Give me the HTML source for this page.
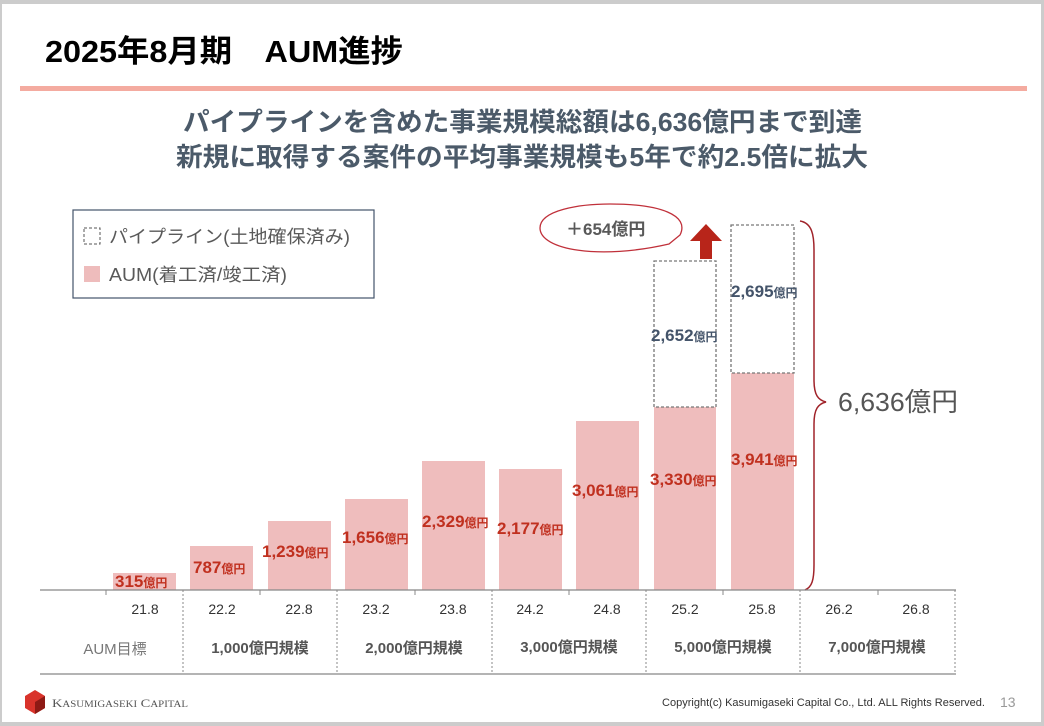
<!DOCTYPE html>
<html><head><meta charset="utf-8"><style>
body{margin:0;width:1044px;height:726px;overflow:hidden;background:#fff}
svg{display:block;font-family:"Liberation Sans","Noto Sans CJK JP",sans-serif}
</style></head><body>
<svg width="1044" height="726" viewBox="0 0 1044 726">
<rect x="0" y="0" width="1044" height="726" fill="#cccccc"/>
<rect x="2" y="4" width="1039" height="718" fill="#fff"/>
<text x="45" y="62" font-size="31" font-weight="bold" fill="#000" textLength="358" lengthAdjust="spacingAndGlyphs">2025年8月期　AUM進捗</text>
<rect x="20" y="86" width="1007" height="5" fill="#f4aba0"/>
<g font-size="26" font-weight="bold" fill="#4b5a69">
<text x="183" y="131" textLength="679" lengthAdjust="spacingAndGlyphs">パイプラインを含めた事業規模総額は6,636億円まで到達</text>
<text x="176" y="166" textLength="692" lengthAdjust="spacingAndGlyphs">新規に取得する案件の平均事業規模も5年で約2.5倍に拡大</text>
</g>
<rect x="73" y="210" width="301" height="88" fill="#fff" stroke="#44546a" stroke-width="1.2"/>
<rect x="84" y="228" width="16" height="16" fill="none" stroke="#555" stroke-dasharray="3,2"/>
<text x="109" y="243" font-size="18" fill="#595959" textLength="241" lengthAdjust="spacingAndGlyphs">パイプライン(土地確保済み)</text>
<rect x="84" y="266" width="16" height="16" fill="#eebcbc"/>
<text x="109" y="281" font-size="18" fill="#595959" textLength="178" lengthAdjust="spacingAndGlyphs">AUM(着工済/竣工済)</text>
<g fill="#efbdbd">
<rect x="113" y="573" width="63" height="17"/>
<rect x="190" y="546" width="63" height="44"/>
<rect x="268" y="521" width="63" height="69"/>
<rect x="345" y="499" width="63" height="91"/>
<rect x="422" y="461" width="63" height="129"/>
<rect x="499" y="469" width="63" height="121"/>
<rect x="576" y="421" width="63" height="169"/>
<rect x="654" y="407" width="62" height="183"/>
<rect x="731" y="373" width="63" height="217"/>
</g>
<g fill="none" stroke="#777" stroke-width="1.3" stroke-dasharray="3,2">
<rect x="654" y="261" width="62" height="146"/>
<rect x="731" y="225" width="63" height="148"/>
</g>
<g font-weight="bold" fill="#c0301f">
<text x="115" y="587" font-size="17">315<tspan font-size="12">億円</tspan></text>
<text x="193" y="573" font-size="17">787<tspan font-size="12">億円</tspan></text>
<text x="262" y="557" font-size="17">1,239<tspan font-size="12">億円</tspan></text>
<text x="342" y="543" font-size="17">1,656<tspan font-size="12">億円</tspan></text>
<text x="422" y="527" font-size="17">2,329<tspan font-size="12">億円</tspan></text>
<text x="497" y="534" font-size="17">2,177<tspan font-size="12">億円</tspan></text>
<text x="572" y="496" font-size="17">3,061<tspan font-size="12">億円</tspan></text>
<text x="650" y="485" font-size="17">3,330<tspan font-size="12">億円</tspan></text>
<text x="731" y="465" font-size="17">3,941<tspan font-size="12">億円</tspan></text>
</g>
<g font-weight="bold" fill="#44546a">
<text x="651" y="341" font-size="17">2,652<tspan font-size="12">億円</tspan></text>
<text x="731" y="297" font-size="17">2,695<tspan font-size="12">億円</tspan></text>
</g>
<path d="M669 244 C 600 260,540 250,540 228 C 540 210,580 204,610 204 C 660 204,690 215,680 235 Z" fill="#fff" stroke="#c0303a" stroke-width="1.3"/>
<text x="566" y="235" font-size="17" font-weight="bold" fill="#595959">＋654億円</text>
<path d="M700 259 V241 H690 L706 224 L722 241 H712 V259 Z" fill="#b8251a"/>
<path d="M800 221 C 812 223,814 235,814 250 V380 C 814 395,818 400,826 402 C 818 404,814 409,814 424 V565 C 814 580,812 587,805 590" fill="none" stroke="#a0232a" stroke-width="1.5"/>
<text x="838" y="411" font-size="26" fill="#555" textLength="120" lengthAdjust="spacingAndGlyphs">6,636億円</text>
<line x1="40" y1="590" x2="956" y2="590" stroke="#888" stroke-width="1.3"/>
<line x1="40" y1="674" x2="956" y2="674" stroke="#888" stroke-width="1.3"/>
<g stroke="#888" stroke-width="1"><line x1="106" y1="590" x2="106" y2="595"/><line x1="260" y1="590" x2="260" y2="595"/><line x1="415" y1="590" x2="415" y2="595"/><line x1="569" y1="590" x2="569" y2="595"/><line x1="723" y1="590" x2="723" y2="595"/><line x1="878" y1="590" x2="878" y2="595"/></g>
<g stroke="#888" stroke-width="1" stroke-dasharray="2,2"><line x1="183" y1="590" x2="183" y2="674"/><line x1="337" y1="590" x2="337" y2="674"/><line x1="492" y1="590" x2="492" y2="674"/><line x1="646" y1="590" x2="646" y2="674"/><line x1="800" y1="590" x2="800" y2="674"/><line x1="955" y1="590" x2="955" y2="674"/></g>
<g font-size="14" fill="#333" text-anchor="middle">
<text x="145" y="614">21.8</text><text x="222" y="614">22.2</text><text x="299" y="614">22.8</text><text x="376" y="614">23.2</text><text x="453" y="614">23.8</text><text x="530" y="614">24.2</text><text x="607" y="614">24.8</text><text x="685" y="614">25.2</text><text x="762" y="614">25.8</text><text x="839" y="614">26.2</text><text x="916" y="614">26.8</text>
</g>
<text x="115" y="654" font-size="15" fill="#777" text-anchor="middle">AUM目標</text>
<g font-size="15" font-weight="bold" fill="#555" text-anchor="middle">
<text x="260" y="653">1,000億円規模</text><text x="414" y="653">2,000億円規模</text><text x="569" y="652">3,000億円規模</text><text x="723" y="652">5,000億円規模</text><text x="877" y="652">7,000億円規模</text>
</g>
<path d="M35 690 L45 696 L45 708 L35 714 L25 708 L25 696 Z" fill="#d9332b"/>
<path d="M35 702 L45 696 L45 708 L35 714 Z" fill="#8e1a15"/>
<text x="52" y="707" font-family="Liberation Serif,serif" font-size="12" fill="#555" textLength="136" lengthAdjust="spacingAndGlyphs">K<tspan font-size="9">ASUMIGASEKI</tspan> C<tspan font-size="9">APITAL</tspan></text>
<text x="662" y="706" font-size="11" fill="#333" textLength="323" lengthAdjust="spacingAndGlyphs">Copyright(c) Kasumigaseki Capital Co., Ltd. ALL Rights Reserved.</text>
<text x="1000" y="707" font-size="14" fill="#999">13</text>
</svg>
</body></html>
